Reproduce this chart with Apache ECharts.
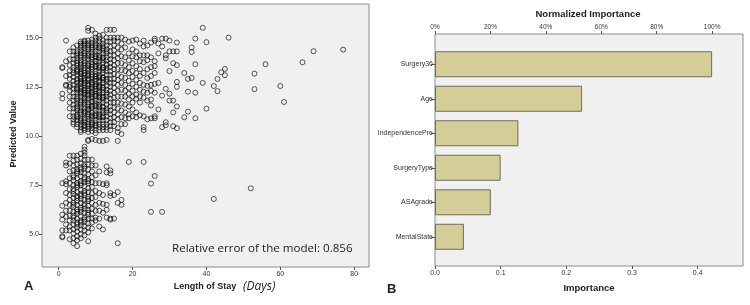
<!DOCTYPE html>
<html><head><meta charset="utf-8">
<script src="https://cdn.jsdelivr.net/npm/echarts@6/dist/echarts.min.js"></script>
<style>html,body{margin:0;padding:0;background:#fff}#c{width:750px;height:305px}</style>
</head><body><div id="c"></div>
<script>
// ---------- Panel A data ----------
const xTicks = [0, 20, 40, 60, 80];
const yTicks = [5.0, 7.5, 10.0, 12.5, 15.0];
const losDays = [1,2,3,4,5,6,7,8,9,10,11,12,13,14,15,16,17,18,19,20,21,22,23,24,25,26,27,28,29,30,31,32];
const predHigh = [
 [13.5,13.45,12.15,11.9],
 [14.85,13.8,13.05,12.6,12.55],
 [14.3,13.9,13.6,13.3,13.1,12.9,12.6,12.5,12.3,12.0,11.7,11.4,11.0],
 [14.5,14.3,14.1,13.9,13.7,13.5,13.35,13.2,13.0,12.8,12.6,12.4,12.2,12.0,11.8,11.6,11.4,11.2,11.0,10.85,10.7,10.6],
 [14.6,14.3,14.1,13.95,13.8,13.6,13.4,13.25,13.1,12.9,12.7,12.5,12.35,12.2,12.0,11.8,11.65,11.5,11.3,11.1,10.95,10.8,10.6,10.45],
 [14.8,14.7,14.5,14.35,14.2,14.0,13.85,13.7,13.5,13.3,13.15,13.0,12.8,12.65,12.5,12.3,12.15,12.0,11.8,11.6,11.45,11.3,11.1,10.9,10.75,10.6,10.45,10.3,10.2],
 [14.85,14.8,14.6,14.45,14.3,14.1,13.95,13.8,13.6,13.45,13.3,13.1,12.95,12.8,12.6,12.45,12.3,12.1,11.95,11.8,11.6,11.4,11.25,11.1,10.9,10.7,10.55,10.4,10.3],
 [15.5,15.35,14.85,14.7,14.5,14.4,14.2,14.05,13.9,13.7,13.55,13.4,13.2,13.05,12.9,12.7,12.55,12.4,12.2,12.05,11.9,11.7,11.5,11.35,11.2,11.0,10.85,10.7,10.5,10.35,10.2,9.8,9.75],
 [15.4,14.9,14.75,14.6,14.4,14.25,14.1,13.9,13.75,13.6,13.4,13.25,13.1,12.9,12.75,12.6,12.4,12.25,12.1,11.9,11.75,11.55,11.4,11.2,11.05,10.9,10.7,10.55,10.4,10.25,9.85],
 [15.2,15.0,14.85,14.7,14.5,14.3,14.15,14.0,13.8,13.65,13.5,13.3,13.15,13.0,12.8,12.65,12.5,12.3,12.15,12.0,11.8,11.65,11.5,11.3,11.15,11.0,10.8,10.65,10.5,10.3,10.15,9.8],
 [15.1,14.95,14.8,14.6,14.45,14.3,14.1,13.95,13.8,13.6,13.45,13.3,13.1,12.95,12.8,12.6,12.45,12.3,12.1,11.95,11.8,11.6,11.45,11.3,11.1,10.95,10.8,10.6,10.45,10.3,9.75],
 [15.15,14.85,14.7,14.55,14.35,14.2,14.0,13.85,13.7,13.5,13.35,13.2,13.0,12.85,12.7,12.5,12.35,12.2,12.0,11.85,11.7,11.5,11.3,11.15,11.0,10.8,10.6,10.45,10.3,9.75],
 [15.4,15.0,14.8,14.6,14.4,14.2,14.0,13.85,13.65,13.45,13.3,13.1,12.9,12.75,12.55,12.35,12.2,12.0,11.8,11.6,11.4,11.2,11.0,10.8,10.6,10.45,10.3,9.8],
 [15.4,15.0,14.8,14.55,14.3,14.1,13.9,13.7,13.5,13.3,13.1,12.9,12.7,12.5,12.3,12.1,11.9,11.7,11.5,11.3,11.1,10.9,10.7,10.5,10.3],
 [15.4,15.0,14.85,14.6,14.35,14.1,13.85,13.6,13.4,13.15,12.9,12.7,12.45,12.2,11.95,11.7,11.45,11.2,10.95,10.7,10.5],
 [15.0,14.8,14.5,14.2,13.95,13.7,13.4,13.1,12.85,12.6,12.3,12.0,11.7,11.4,11.1,10.85,10.4,10.2,9.75],
 [15.0,14.7,14.4,14.05,13.7,13.35,13.0,12.7,12.35,12.0,11.65,11.3,10.95,10.6,10.1],
 [14.9,14.5,14.0,13.6,13.3,12.95,12.6,12.3,12.0,11.6,11.2,10.9,10.6],
 [14.8,14.2,13.85,13.5,13.2,12.8,12.45,12.15,11.85,11.5,11.1,10.9],
 [14.85,14.4,14.05,13.7,13.3,13.0,12.65,12.3,12.0,11.7,11.35,11.0],
 [14.9,14.3,14.0,13.55,13.2,12.85,12.5,12.1,11.9,11.2,10.95],
 [14.7,14.1,13.8,13.4,13.05,12.7,12.35,12.0,11.7,11.05],
 [14.85,14.55,14.1,13.75,13.2,12.6,12.25,11.95,11.0,10.45,10.3],
 [14.6,14.1,13.85,13.4,12.95,12.55,12.2,11.8,10.85],
 [14.75,14.0,13.5,13.05,12.6,12.3,11.85,11.55,10.9],
 [14.95,14.85,13.8,13.55,13.2,12.65,12.2,11.0,10.9],
 [14.7,14.2,12.7,11.35],
 [14.95,14.55,12.05,10.45],
 [14.95,14.1,13.95,12.4,10.55,10.7],
 [14.85,14.3,13.3,12.15,11.8],
 [14.3,13.7,11.8,11.2,10.5],
 [14.75,14.3,13.6,12.75,12.5,11.5,10.4]
];
// extra overlapping patients in the densest core (days 5-13)
const coreDays = [5,6,7,8,9,10,11,12,13];
const predCore = [
 [14.2,13.7,13.3,12.8,12.4,11.9,11.4,11.0],
 [14.6,14.1,13.6,13.2,12.7,12.2,11.7,11.2,10.8,12.9,12.4,13.4],
 [14.7,14.2,13.7,13.2,12.7,12.2,11.7,11.2,10.8,10.5,12.9,12.35,11.9],
 [14.6,14.1,13.6,13.1,12.6,12.1,11.6,11.1,10.6,12.85,12.3,13.3,11.35],
 [14.5,14.0,13.5,13.0,12.5,12.0,11.5,11.0,10.6,12.7,12.2,11.75],
 [14.6,14.05,13.55,13.05,12.55,12.05,11.55,11.05,10.55,12.9,12.4,13.8],
 [14.5,14.0,13.5,13.0,12.5,12.0,11.5,11.0,12.75,12.2],
 [14.45,13.95,13.45,12.95,12.45,11.95,11.45,10.95],
 [14.3,13.6,12.85,12.1,11.3]
];
const predLow = [
 [7.6,6.45,6.0,5.75,5.2,4.9,4.85],
 [8.65,8.5,7.7,7.55,7.1,6.6,6.2,5.9,5.5,5.2],
 [9.0,8.6,8.2,7.85,7.6,7.3,7.0,6.75,6.5,6.2,5.95,5.7,5.4,5.2,4.75],
 [9.0,8.75,8.5,8.25,8.0,7.75,7.5,7.3,7.05,6.85,6.6,6.4,6.15,5.95,5.7,5.5,5.25,5.05,4.8,4.55],
 [9.0,8.8,8.55,8.3,8.1,7.85,7.6,7.4,7.15,6.95,6.7,6.5,6.25,6.05,5.8,5.6,5.35,5.15,4.9,4.7,4.4],
 [9.1,8.85,8.6,8.4,8.15,7.95,7.7,7.5,7.25,7.05,6.8,6.6,6.35,6.15,5.9,5.7,5.45,5.25,5.0,4.8],
 [9.45,9.3,9.15,9.0,8.8,8.55,8.35,8.1,7.9,7.65,7.45,7.2,7.0,6.75,6.55,6.3,6.1,5.85,5.65,5.4,5.2,4.95],
 [8.8,8.55,8.3,8.05,7.8,7.6,7.35,7.15,6.9,6.7,6.45,6.25,6.0,5.8,5.55,5.35,5.1,4.65],
 [8.8,8.5,8.2,7.9,7.65,7.4,7.1,6.85,6.6,6.3,6.05,5.8,5.6,5.3],
 [8.5,8.0,7.6,7.2,6.9,6.5,6.2,5.85,5.7],
 [8.2,7.6,7.1,6.6,6.2,5.8,5.4],
 [7.55,7.0,6.55,6.1,5.25],
 [8.45,8.15,7.6,7.5,6.5,6.25,5.85],
 [8.25,8.1,7.1,6.95,5.75,5.8],
 [7.0,5.8],
 [7.15,6.6,4.55],
 [6.75,6.5],
 [],
 [8.68],
 [],[],[],
 [8.68],
 [],
 [7.58,6.14],
 [7.97],
 [],
 [6.14],
 [],[],[],[]
];
// extra overlapping patients in the lower core (days 4-8)
const lowCoreDays = [4,5,6,7,8];
const predLowCore = [
 [7.9,7.2,6.5,5.85],
 [8.2,7.5,6.85,6.15,5.5],
 [8.3,7.6,6.95,6.25,5.6],
 [8.45,7.8,7.1,6.45,5.75],
 [7.7,6.8,6.1]
];
const sparsePoints = [
 [34,13.2],[34,10.95],[35,12.9],[35,12.25],[35,11.24],[36,14.5],[36,14.27],[36,12.95],
 [37,14.95],[37,13.65],[37,12.2],[37,10.9],[39,15.5],[39,12.7],[40,14.77],[40,11.39],
 [42,12.54],[43,12.9],[43,12.28],[44,13.24],[45,13.41],[45,13.09],[46,15.0],
 [53,13.17],[53,12.38],[56,13.65],[60,12.54],[61,11.73],[66,13.75],[69,14.31],[77,14.39],
 [42,6.8],[52,7.34]
];

// ---------- Panel B data ----------
const features = ['Surgery36', 'Age', 'IndependencePre', 'SurgeryType', 'ASAgrade', 'MentalState'];
const importance = [0.422, 0.224, 0.127, 0.100, 0.085, 0.044];
const impTicks = [0, 0.1, 0.2, 0.3, 0.4];
const pctTicks = [0, 20, 40, 60, 80, 100];

// ---------- build ----------
const scatterData = [];
losDays.forEach((d, i) => {
  (predHigh[i] || []).forEach(v => scatterData.push([d, v]));
  (predLow[i] || []).forEach(v => scatterData.push([d, v]));
});
coreDays.forEach((d, i) => predCore[i].forEach(v => scatterData.push([d, v])));
lowCoreDays.forEach((d, i) => predLowCore[i].forEach(v => scatterData.push([d, v])));
sparsePoints.forEach(p => scatterData.push(p));

const impMax = 0.469;
const pctMax = impMax / importance[0] * 100;
const FONT = 'Liberation Sans';
const tickLbl = {fontSize: 7, color: '#333', fontFamily: FONT};

const chart = echarts.init(document.getElementById('c'), null, {renderer: 'canvas'});
chart.setOption({
  animation: false,
  grid: [
    {left: 42, top: 4, width: 327, height: 263, show: true, backgroundColor: '#f0f0f0', borderColor: '#8c8c8c', borderWidth: 1},
    {left: 435, top: 34, width: 308, height: 232, show: true, backgroundColor: '#f0f0f0', borderColor: '#8c8c8c', borderWidth: 1},
    {left: 435, top: 47, width: 308, height: 207, show: false}
  ],
  xAxis: [
    {gridIndex: 0, type: 'value', min: -4.5, max: 84, splitLine: {show: false}, axisLine: {show: false, onZero: false},
     axisTick: {show: true, length: 3, customValues: xTicks, lineStyle: {color: '#555'}},
     axisLabel: Object.assign({customValues: xTicks, margin: 4}, tickLbl)},
    {gridIndex: 1, type: 'value', min: 0, max: impMax, position: 'bottom', splitLine: {show: false}, axisLine: {show: false, onZero: false},
     axisTick: {show: true, length: 3, customValues: impTicks, lineStyle: {color: '#555'}},
     axisLabel: Object.assign({customValues: impTicks, margin: 4, formatter: v => v.toFixed(1)}, tickLbl)},
    {gridIndex: 1, type: 'value', min: 0, max: pctMax, position: 'top', splitLine: {show: false}, axisLine: {show: false, onZero: false},
     axisTick: {show: true, length: 3, customValues: pctTicks, lineStyle: {color: '#555'}},
     axisLabel: Object.assign({customValues: pctTicks, margin: 3, formatter: v => v + '%'}, tickLbl, {fontSize: 6.5})},
    {gridIndex: 2, type: 'value', min: 0, max: impMax, show: false}
  ],
  yAxis: [
    {gridIndex: 0, type: 'value', min: 3.34, max: 16.71, splitLine: {show: false}, axisLine: {show: false, onZero: false},
     axisTick: {show: true, length: 3, customValues: yTicks, lineStyle: {color: '#555'}},
     axisLabel: Object.assign({customValues: yTicks, margin: 3, formatter: v => v.toFixed(1)}, tickLbl)},
    {gridIndex: 1, type: 'value', min: 0, max: 1, show: false},
    {gridIndex: 2, type: 'category', data: features, inverse: true, axisLine: {show: false, onZero: false},
     axisTick: {show: true, alignWithLabel: true, length: 4, lineStyle: {color: '#555'}},
     axisLabel: Object.assign({margin: 2}, tickLbl)}
  ],
  series: [
    {type: 'scatter', xAxisIndex: 0, yAxisIndex: 0, data: scatterData, symbol: 'circle', symbolSize: 5,
     itemStyle: {color: 'rgba(0,0,0,0)', borderColor: 'rgba(10,10,10,0.85)', borderWidth: 1}},
    {type: 'bar', xAxisIndex: 3, yAxisIndex: 2, data: importance, barWidth: 26,
     itemStyle: {color: '#d4cd98', borderColor: '#6e6c5c', borderWidth: 1}}
  ],
  graphic: [
    {type: 'text', x: 14, y: 134, rotation: Math.PI / 2,
     style: {text: 'Predicted Value', font: 'bold 9px "Liberation Sans"', fill: '#222', textAlign: 'center', textVerticalAlign: 'middle'}},
    {type: 'text', x: 205, y: 287, style: {text: 'Length of Stay', font: 'bold 9px "Liberation Sans"', fill: '#222', textAlign: 'center', textVerticalAlign: 'middle'}},
    {type: 'text', x: 243, y: 287, style: {text: '(Days)', font: 'italic 12px "Open Sans"', fill: '#222', textAlign: 'left', textVerticalAlign: 'middle'}},
    {type: 'text', x: 24, y: 286, style: {text: 'A', font: 'bold 13px "Liberation Sans"', fill: '#222', textAlign: 'left', textVerticalAlign: 'middle'}},
    {type: 'text', x: 172, y: 249, style: {text: 'Relative error of the model: 0.856', font: '11.6px "Open Sans"', fill: '#222', textAlign: 'left', textVerticalAlign: 'middle'}},
    {type: 'text', x: 588, y: 14, style: {text: 'Normalized Importance', font: 'bold 9.5px "Liberation Sans"', fill: '#222', textAlign: 'center', textVerticalAlign: 'middle'}},
    {type: 'text', x: 589, y: 288, style: {text: 'Importance', font: 'bold 9.5px "Liberation Sans"', fill: '#222', textAlign: 'center', textVerticalAlign: 'middle'}},
    {type: 'text', x: 387, y: 289, style: {text: 'B', font: 'bold 13px "Liberation Sans"', fill: '#222', textAlign: 'left', textVerticalAlign: 'middle'}}
  ]
});
</script></body></html>
